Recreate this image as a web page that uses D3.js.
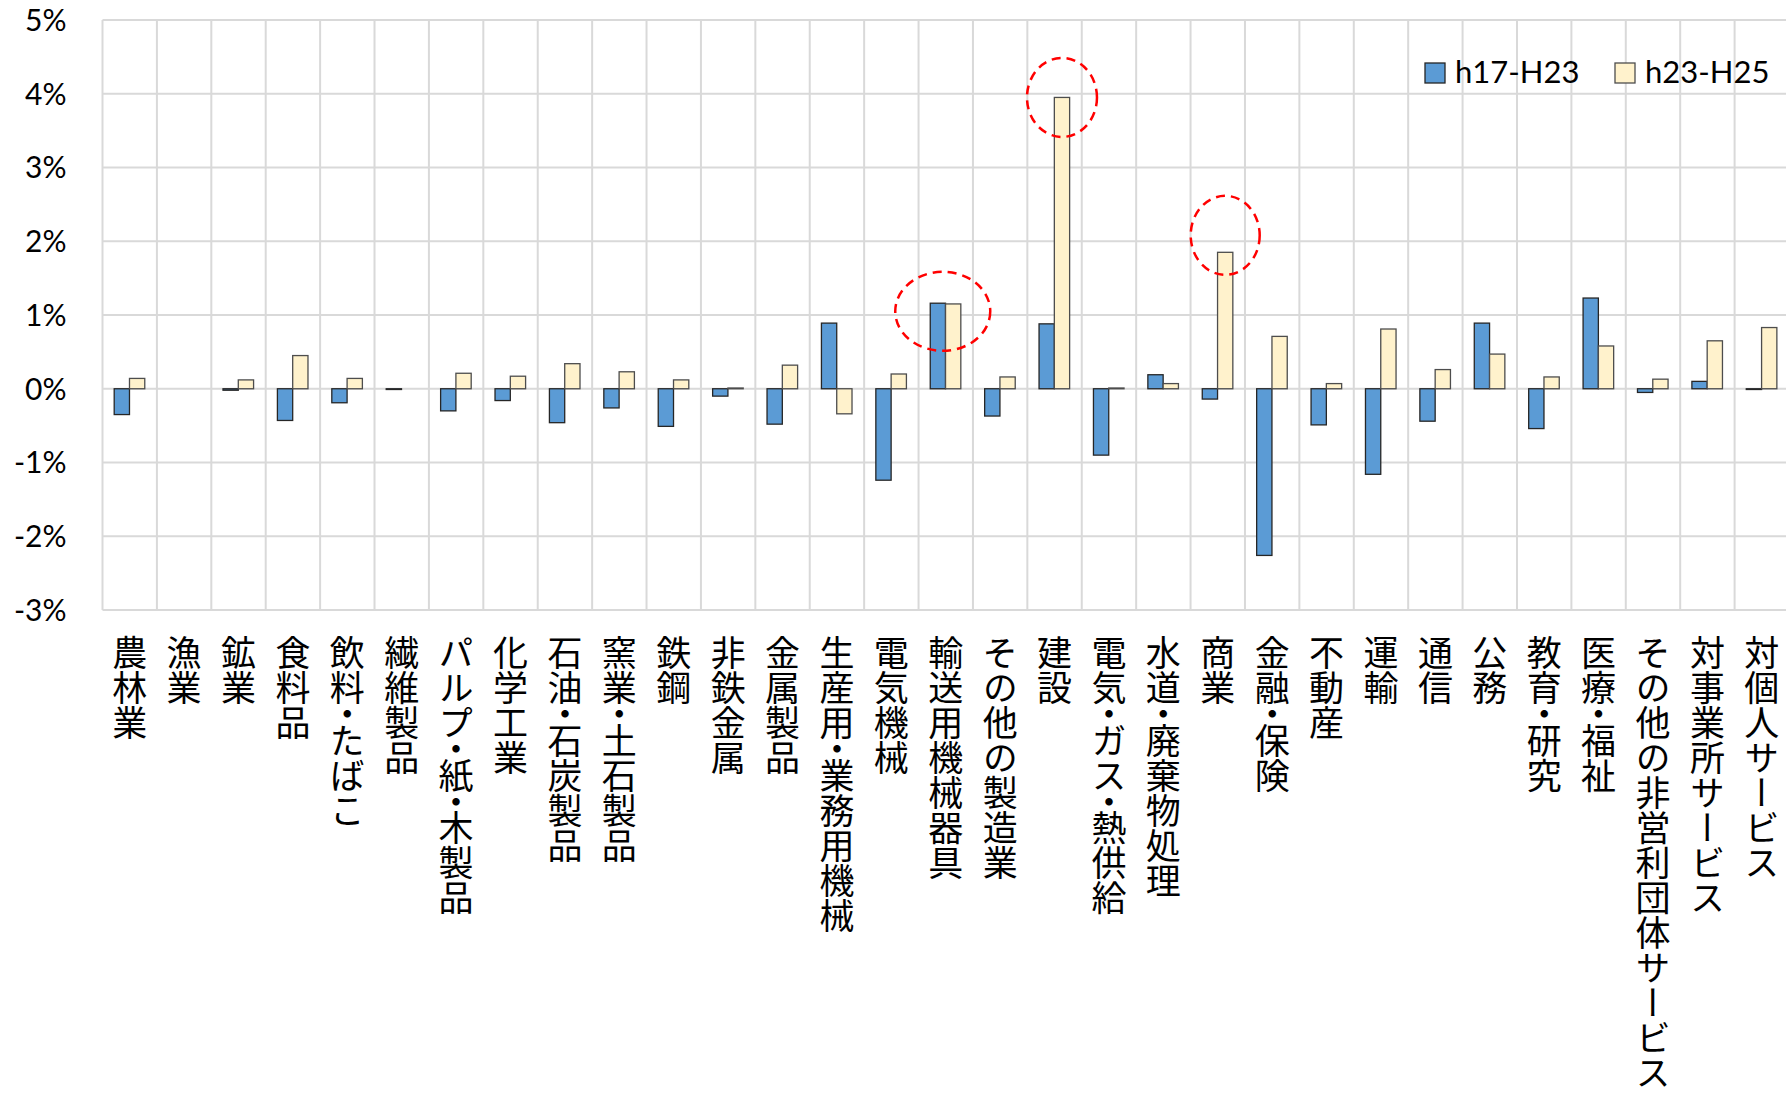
<!DOCTYPE html>
<html>
<head>
<meta charset="utf-8">
<script src="https://cdn.jsdelivr.net/npm/d3@7"></script>
<style>
  html, body { margin: 0; padding: 0; background: #fff; overflow: hidden; }
  svg { display: block; }
  .tick-label { font-family: Lato, "Open Sans", sans-serif; font-size: 30px; fill: #000; }
  .cat-label { font-family: "Noto Sans CJK JP", sans-serif; font-size: 35px; fill: #000; writing-mode: vertical-rl; }
  .cat-label .dot { font-feature-settings: "vhal" 1; }
  .legend-label { font-family: Lato, "Open Sans", sans-serif; font-size: 31px; fill: #000; }
</style>
</head>
<body>
<div id="chart"></div>
<script>
// industry categories (x axis)
const categories = [
  "農林業", "漁業", "鉱業", "食料品", "飲料・たばこ", "繊維製品",
  "パルプ・紙・木製品", "化学工業", "石油・石炭製品", "窯業・土石製品",
  "鉄鋼", "非鉄金属", "金属製品", "生産用・業務用機械", "電気機械",
  "輸送用機械器具", "その他の製造業", "建設", "電気・ガス・熱供給",
  "水道・廃棄物処理", "商業", "金融・保険", "不動産", "運輸", "通信",
  "公務", "教育・研究", "医療・福祉", "その他の非営利団体サービス",
  "対事業所サービス", "対個人サービス"
];

const seriesNames = ["h17-H23", "h23-H25"];

// values in percent
const valuesH17H23 = [
  -0.35, 0.00, -0.02, -0.43, -0.19, -0.01, -0.30, -0.16, -0.46, -0.26,
  -0.51, -0.10, -0.48, 0.89, -1.24, 1.16, -0.37, 0.88, -0.90, 0.19,
  -0.14, -2.26, -0.49, -1.16, -0.44, 0.89, -0.54, 1.23, -0.05, 0.10, -0.01
];
const valuesH23H25 = [
  0.14, 0.00, 0.12, 0.45, 0.14, 0.00, 0.21, 0.17, 0.34, 0.23,
  0.12, 0.01, 0.32, -0.34, 0.20, 1.15, 0.16, 3.95, 0.01, 0.07,
  1.85, 0.71, 0.07, 0.81, 0.26, 0.47, 0.16, 0.58, 0.13, 0.65, 0.83
];

const yTicks = [-3, -2, -1, 0, 1, 2, 3, 4, 5];

// dashed highlight circles: category, series index, value at centre
const highlightCats = ["輸送用機械器具", "建設", "商業"];
const highlightSeries = [-1, 1, 1];
const highlightValues = [1.05, 3.95, 2.08];

class GroupedBars {
  constructor(_config) {
    this.config = {
      parentElement: _config.parentElement,
      containerWidth: 1786,
      containerHeight: 1093,
      margin: { top: 20, right: -3, bottom: 483, left: 102.5 },
      colors: ["#5B9BD5", "#FFF2CC"],
      strokes: ["#262626", "#4d4d4d"]
    };
    this.initVis();
  }

  initVis() {
    let vis = this;
    const m = vis.config.margin;
    vis.width = vis.config.containerWidth - m.left - m.right;
    vis.height = vis.config.containerHeight - m.top - m.bottom;

    vis.svg = d3.select(vis.config.parentElement)
      .append("svg")
      .attr("width", vis.config.containerWidth)
      .attr("height", vis.config.containerHeight);

    vis.chart = vis.svg.append("g")
      .attr("transform", `translate(${m.left},${m.top})`);

    vis.x0 = d3.scaleBand().domain(categories).range([0, vis.width]).padding(0);
    vis.x1 = d3.scaleBand()
      .domain(seriesNames)
      .range([vis.x0.bandwidth() * 0.215, vis.x0.bandwidth() * 0.777])
      .padding(0);
    vis.y = d3.scaleLinear().domain([-3, 5]).range([vis.height, 0]);

    vis.data = categories.map((c, i) => ({
      cat: c,
      vals: [
        { key: seriesNames[0], v: valuesH17H23[i], s: 0 },
        { key: seriesNames[1], v: valuesH23H25[i], s: 1 }
      ]
    }));

    vis.renderVis();
  }

  renderVis() {
    let vis = this;

    // horizontal gridlines
    vis.chart.append("g")
      .selectAll("line")
      .data(yTicks)
      .join("line")
      .attr("x1", 0)
      .attr("x2", vis.width)
      .attr("y1", (d) => vis.y(d))
      .attr("y2", (d) => vis.y(d))
      .attr("stroke", "#d9d9d9")
      .attr("stroke-width", 2);

    // vertical gridlines at the category boundaries
    vis.chart.append("g")
      .selectAll("line")
      .data(categories)
      .join("line")
      .attr("x1", (d) => vis.x0(d))
      .attr("x2", (d) => vis.x0(d))
      .attr("y1", vis.y(5))
      .attr("y2", vis.y(-3))
      .attr("stroke", "#d9d9d9")
      .attr("stroke-width", 2);

    // y tick labels (plain hyphen for negatives, as in the original)
    vis.chart.append("g")
      .selectAll("text")
      .data(yTicks)
      .join("text")
      .attr("class", "tick-label")
      .attr("x", -36)
      .attr("y", (d) => vis.y(d))
      .attr("dy", "0.36em")
      .attr("text-anchor", "end")
      .text((d) => String(d) + "%");

    // bars
    const groups = vis.chart.append("g")
      .selectAll("g")
      .data(vis.data)
      .join("g")
      .attr("transform", (d) => `translate(${vis.x0(d.cat)},0)`);

    groups.selectAll("rect")
      .data((d) => d.vals)
      .join("rect")
      .attr("x", (d) => vis.x1(d.key))
      .attr("width", vis.x1.bandwidth())
      .attr("y", (d) => vis.y(Math.max(0, d.v)))
      .attr("height", (d) => Math.abs(vis.y(d.v) - vis.y(0)))
      .attr("fill", (d) => vis.config.colors[d.s])
      .attr("stroke", (d) => vis.config.strokes[d.s])
      .attr("stroke-width", 1.3);

    // category labels, written vertically; the middle dot gets a half-height advance
    const labels = vis.chart.append("g")
      .selectAll("text")
      .data(categories)
      .join("text")
      .attr("class", "cat-label")
      .attr("x", (d) => vis.x0(d) + vis.x0.bandwidth() / 2)
      .attr("y", vis.y(-3) + 25);

    labels.each(function (d) {
      const t = d3.select(this);
      d.split(/(・)/).filter((p) => p.length).forEach((p) => {
        t.append("tspan")
          .attr("class", p === "・" ? "dot" : null)
          .text(p);
      });
    });

    // dashed red circles
    const rx = [47.5, 35, 34.5];
    vis.chart.append("g")
      .selectAll("ellipse")
      .data(highlightCats)
      .join("ellipse")
      .attr("cx", (d, i) => {
        const s = highlightSeries[i];
        return s < 0
          ? vis.x0(d) + vis.x0.bandwidth() / 2 - 3
          : vis.x0(d) + vis.x1(seriesNames[s]) + vis.x1.bandwidth() / 2;
      })
      .attr("cy", (d, i) => vis.y(highlightValues[i]))
      .attr("rx", (d, i) => rx[i])
      .attr("ry", 39.5)
      .attr("fill", "none")
      .attr("stroke", "#ff0000")
      .attr("stroke-width", 2.5)
      .attr("stroke-dasharray", "9,6");

    // legend
    const legendX = [1425, 1615];
    const legend = vis.svg.append("g")
      .selectAll("g")
      .data(seriesNames)
      .join("g")
      .attr("transform", (d, i) => `translate(${legendX[i]},63)`);
    legend.append("rect")
      .attr("width", 20)
      .attr("height", 20)
      .attr("fill", (d, i) => vis.config.colors[i])
      .attr("stroke", (d, i) => vis.config.strokes[i])
      .attr("stroke-width", 1.3);
    legend.append("text")
      .attr("class", "legend-label")
      .attr("x", 30)
      .attr("y", 20)
      .text((d) => d);
  }
}

new GroupedBars({ parentElement: "#chart" });
</script>
</body>
</html>
